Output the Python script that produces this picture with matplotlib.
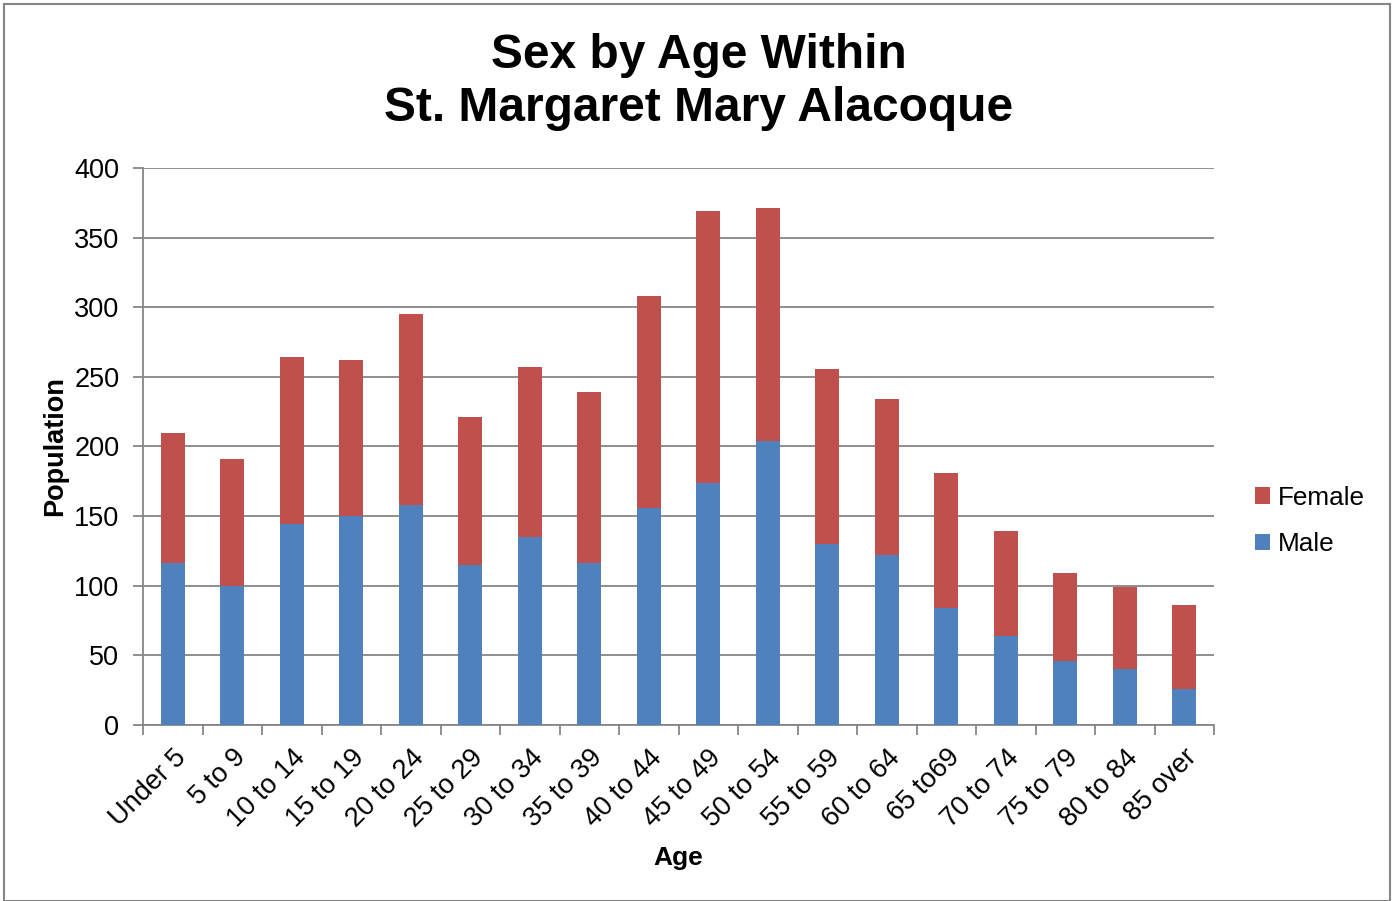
import matplotlib.pyplot as plt
import numpy as np
from matplotlib.patches import Rectangle

plt.rcParams['font.family'] = ['Liberation Sans', 'DejaVu Sans']

# data
age_groups = ['Under 5', '5 to 9', '10 to 14', '15 to 19', '20 to 24', '25 to 29',
              '30 to 34', '35 to 39', '40 to 44', '45 to 49', '50 to 54', '55 to 59',
              '60 to 64', '65 to69', '70 to 74', '75 to 79', '80 to 84', '85 over']
male = [116, 100, 144, 150, 158, 115, 135, 116, 156, 174, 204, 130, 122, 84, 64, 46, 40, 26]
total = [210, 191, 264, 262, 295, 221, 257, 239, 308, 369, 371, 256, 234, 181, 139, 109, 99, 86]
female = [t - m for t, m in zip(total, male)]

blue = '#4F81BD'
red = '#C0504D'
grey = '#868686'

fig = plt.figure(figsize=(13.97, 9.01), dpi=100)
ax = fig.add_axes([143 / 1397, 1 - 725 / 901, (1214 - 143) / 1397, (725 - 168) / 901])

x = np.arange(len(age_groups))
ax.bar(x, male, width=0.41, color=blue, label='Male', zorder=3)
ax.bar(x, female, width=0.41, bottom=male, color=red, label='Female', zorder=3)

ax.set_xlim(-0.5, len(age_groups) - 0.5)
ax.set_ylim(0, 400)
ax.set_yticks(range(0, 401, 50))
ax.yaxis.grid(True, color=grey, linewidth=1.3, zorder=0)
ax.tick_params(axis='y', length=7, color=grey, width=1.3, labelsize=19.5, pad=10)

# category labels centred under bars, ticks on the boundaries
ax.set_xticks(x)
ax.set_xticklabels(age_groups, rotation=45, ha='right', rotation_mode='anchor', fontsize=19.5)
ax.tick_params(axis='x', which='major', length=0, pad=14)
ax.set_xticks(np.arange(-0.5, len(age_groups)), minor=True)
ax.tick_params(axis='x', which='minor', length=7, color=grey, width=1.3)

for side in ['top', 'right']:
    ax.spines[side].set_visible(False)
for side in ['left', 'bottom']:
    ax.spines[side].set_color(grey)
    ax.spines[side].set_linewidth(1.3)

ax.set_xlabel('Age', fontsize=19, fontweight='bold', labelpad=10)
ax.set_ylabel('Population', fontsize=19.5, fontweight='bold', labelpad=4)

fig.text(0.5, 1 - 82 / 901, 'Sex by Age Within\nSt. Margaret Mary Alacoque', fontsize=34.5,
         fontweight='bold', ha='center', va='center', linespacing=1.24)

handles, labels = ax.get_legend_handles_labels()
fig.legend(handles[::-1], labels[::-1], loc='center left', bbox_to_anchor=(1231 / 1397, 1 - 521 / 901),
           frameon=False, fontsize=18.8, handlelength=0.6, handleheight=0.6,
           handletextpad=0.3, labelspacing=0.85)

# outer chart border
fig.patches.append(Rectangle((4 / 1397, 0), 1386 / 1397, 1 - 4 / 901, transform=fig.transFigure,
                             fill=False, edgecolor=grey, linewidth=1.5))

fig.savefig('out.png', dpi=100)
